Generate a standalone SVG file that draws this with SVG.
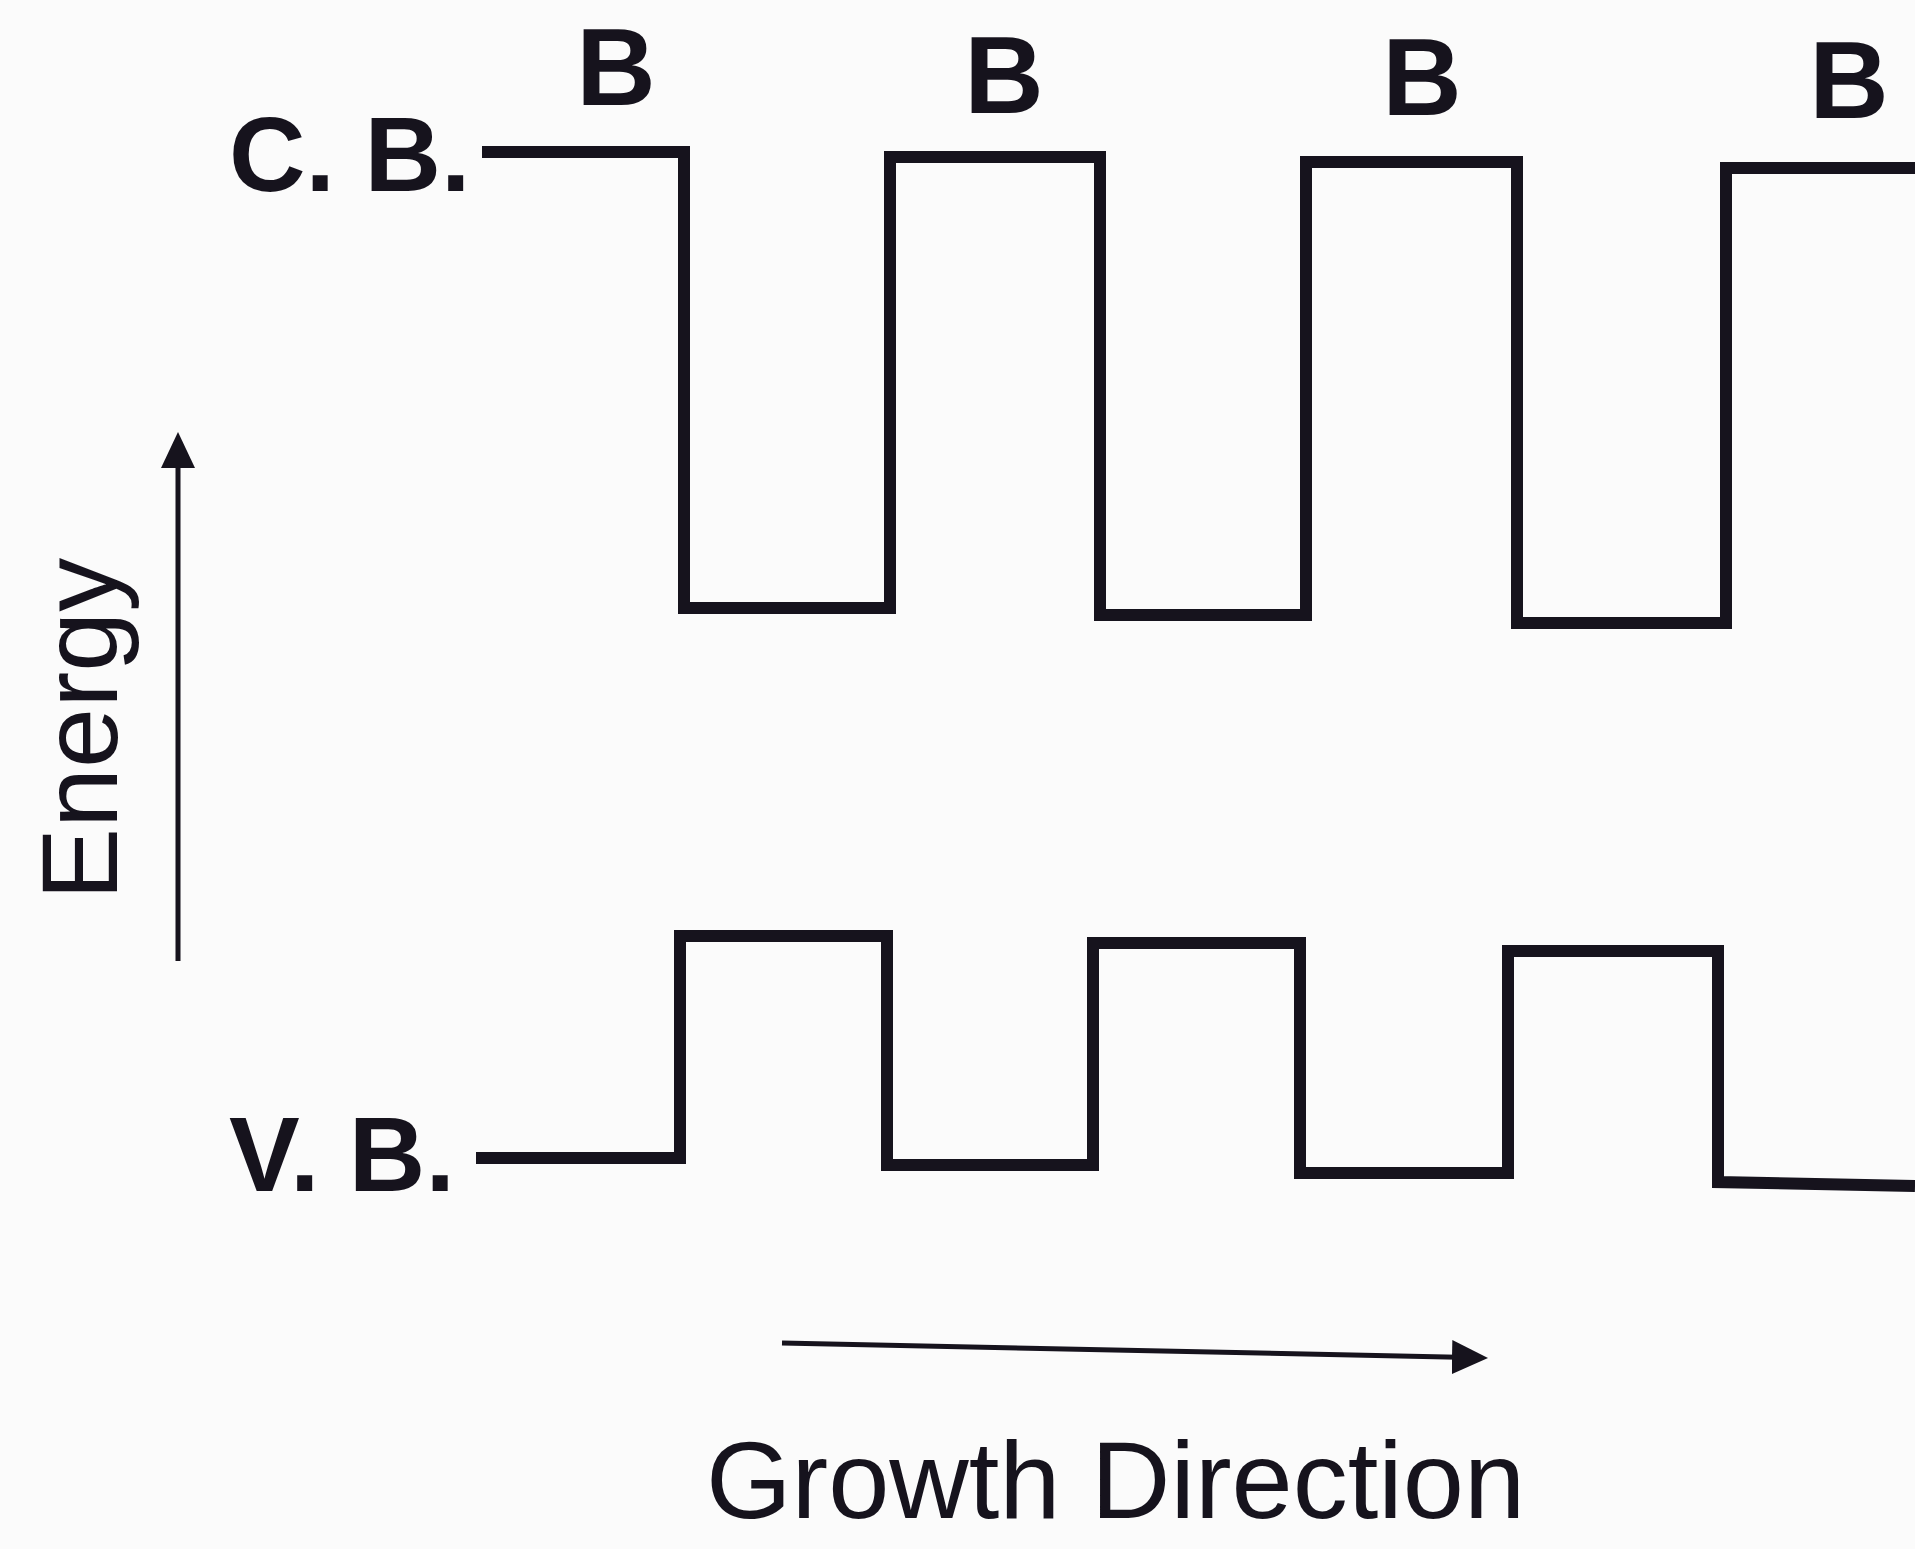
<svg xmlns="http://www.w3.org/2000/svg" width="1915" height="1549" viewBox="0 0 1915 1549">
  <style>
    .band { fill: none; stroke: #16131d; stroke-width: 12; stroke-linejoin: miter; stroke-linecap: butt; }
    .axis { fill: none; stroke: #16131d; stroke-width: 5; }
    .lbl { font-family: "Liberation Sans", Arial, sans-serif; font-weight: bold; fill: #16131d; }
    .ax { font-family: "Liberation Sans", Arial, sans-serif; font-weight: normal; fill: #16131d; }
  </style>
  <defs>
    <marker id="arrow" viewBox="0 0 36 34" refX="18" refY="17" markerWidth="36" markerHeight="34" markerUnits="userSpaceOnUse" orient="auto">
      <path d="M0,0 L36,17 L0,34 Z" fill="#16131d"/>
    </marker>
  </defs>
  <rect x="0" y="0" width="1915" height="1549" fill="#fbfbfb"/>

  <g id="connectors">
    <path id="cb-band" class="band" d="M482,152 H684 V608 H890 V157 H1100 V615 H1306 V162 H1517 V623 H1726 V168 H1915"/>
    <path id="vb-band" class="band" d="M476,1158 H680 V936 H887 V1165 H1093 V943 H1300 V1173 H1508 V951 H1718 V1182 L1915,1186"/>
    <line id="energy-axis" class="axis" x1="178" y1="961" x2="178" y2="450" marker-end="url(#arrow)"/>
    <line id="growth-axis" class="axis" x1="782" y1="1343" x2="1470" y2="1357.5" marker-end="url(#arrow)"/>
  </g>

  <g id="label-cb"><text class="lbl" x="229" y="191" font-size="106">C. B.</text></g>
  <g id="label-vb"><text class="lbl" x="229" y="1191" font-size="106">V. B.</text></g>
  <g id="label-b1"><text class="lbl" x="616" y="105" font-size="110" text-anchor="middle">B</text></g>
  <g id="label-b2"><text class="lbl" x="1004" y="113" font-size="110" text-anchor="middle">B</text></g>
  <g id="label-b3"><text class="lbl" x="1422" y="115" font-size="110" text-anchor="middle">B</text></g>
  <g id="label-b4"><text class="lbl" x="1849" y="118" font-size="110" text-anchor="middle">B</text></g>
  <g id="label-energy"><text class="ax" transform="translate(117,900) rotate(-90)" font-size="108">Energy</text></g>
  <g id="label-growth"><text class="ax" x="706" y="1518" font-size="110">Growth Direction</text></g>
</svg>
